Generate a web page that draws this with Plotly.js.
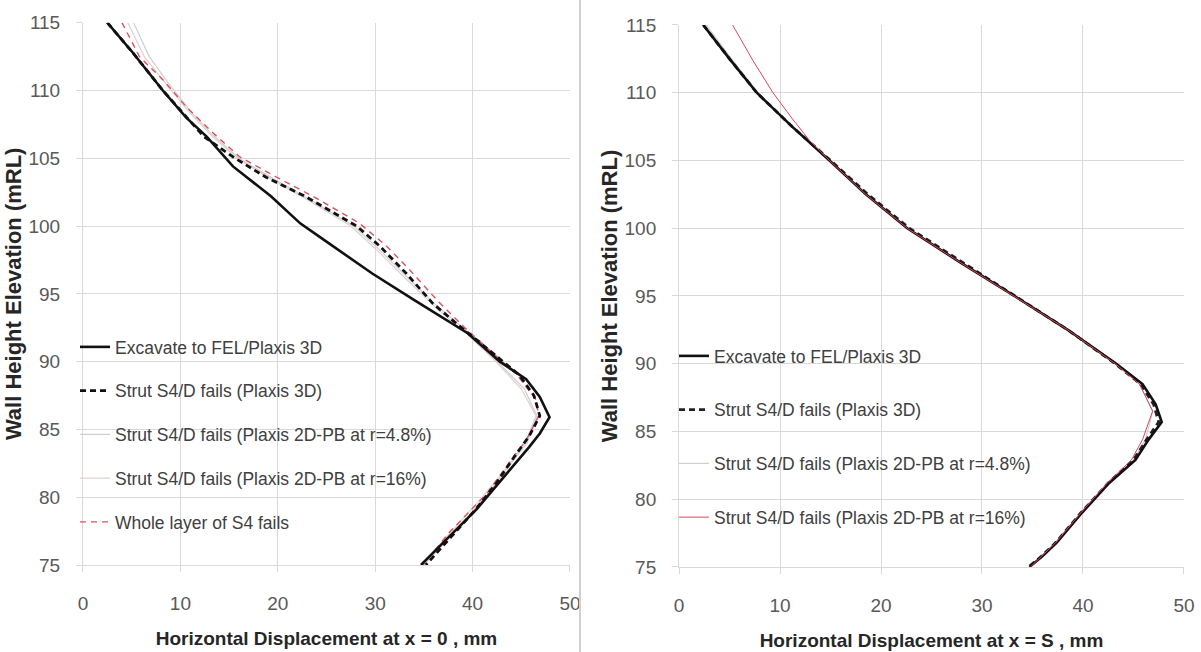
<!DOCTYPE html>
<html>
<head>
<meta charset="utf-8">
<script src="https://cdn.plot.ly/plotly-3.0.1.min.js"></script>
<style>html,body{margin:0;padding:0;background:#fff;}#chart{width:1201px;height:652px;}</style>
</head>
<body>
<div id="chart"></div>
<script>
// ---------- Left panel (x = 0) ----------
const L_exc_y = [115, 112.8, 110, 108, 106.6, 105, 104.4, 102.2, 100.2, 99.2, 96.5, 94.5, 92.1, 90, 88.7, 87.4, 85.9, 84.7, 83.7, 82, 79.1, 77.1, 75];
const L_exc_x = [2.5, 5.1, 8.2, 10.6, 12.7, 14.6, 15.4, 19.3, 22.3, 24.3, 29.7, 34.1, 39.5, 42.8, 45.5, 46.9, 47.9, 46.9, 45.8, 43.8, 40.4, 37.6, 34.7];

const L_s3d_y = [115, 112.8, 110, 108, 106.6, 105.1, 103.6, 102.2, 100, 98.5, 96.5, 94.3, 92.6, 90.5, 89, 87.5, 86, 84.5, 83, 81, 79, 77, 75];
const L_s3d_x = [2.5, 5.1, 8.2, 10.7, 12.4, 15.4, 18.8, 22.8, 28.1, 30.5, 33.2, 35.9, 38.7, 42.3, 44.8, 46.3, 46.9, 45.8, 44.3, 42.4, 40.2, 37.7, 35.2];

const L_pb48_y = [115, 112.5, 110.5, 108.5, 106.8, 105, 103.5, 102, 100, 98, 96, 94, 92, 90, 88, 86, 84, 82, 80, 78, 76, 75];
const L_pb48_x = [5.2, 6.8, 8.8, 11.0, 13.2, 16.0, 19.5, 23.2, 27.8, 30.8, 33.6, 36.5, 39.8, 42.5, 45.3, 46.6, 45.6, 43.4, 41.3, 38.8, 36.2, 35.0];

const L_pb16_y = [115, 112.5, 110.5, 108.5, 106.8, 105, 103.5, 102, 100, 98, 96, 94, 92, 90, 88, 86, 84, 82, 80, 78, 76, 75];
const L_pb16_x = [4.6, 6.3, 8.5, 10.8, 13.0, 15.8, 19.2, 22.9, 27.5, 30.5, 33.3, 36.2, 39.5, 42.4, 45.0, 46.5, 45.4, 43.3, 41.0, 38.5, 36.0, 34.9];

const L_whole_y = [115, 112.5, 110.8, 108.8, 106.9, 105.1, 103.6, 102.2, 100.2, 98.5, 96.8, 94.5, 92.5, 90.5, 89, 87.2, 86, 84.2, 83, 80.3, 77.4, 75];
const L_whole_x = [4.0, 5.8, 8.2, 10.6, 13.3, 16.1, 19.9, 23.6, 28.4, 31.2, 33.5, 36.4, 39.2, 42.3, 44.6, 46.5, 46.8, 45.5, 44.2, 41.5, 37.6, 34.9];

// ---------- Right panel (x = S) ----------
const R_exc_y = [115, 112.5, 110, 107.5, 105, 102.5, 100, 97.5, 95, 92.5, 90, 88.5, 87, 85.7, 84.4, 82.9, 81.2, 79, 76.8, 75.8, 75];
const R_exc_x = [2.4, 5.0, 7.7, 11.2, 14.9, 18.5, 22.6, 27.8, 33.2, 38.5, 43.3, 45.9, 47.2, 47.8, 46.5, 45.2, 42.6, 39.9, 37.4, 36.0, 34.7];

const R_s3d_y = [115, 112.5, 110, 107.5, 105, 102.5, 100, 97.5, 95, 92.5, 90, 88.5, 87, 85.7, 84.4, 82.9, 81.2, 79, 76.8, 75.8, 75];
const R_s3d_x = [2.4, 5.0, 7.7, 11.2, 15.0, 18.7, 22.8, 28.0, 33.3, 38.5, 43.2, 45.7, 47.0, 47.5, 46.3, 45.0, 42.5, 39.8, 37.3, 35.9, 34.6];

const R_pb48_y = [115, 112.5, 110, 107.5, 105, 102.5, 100, 97.5, 95, 92.5, 90, 88.5, 86.5, 84.4, 82.9, 81.2, 79, 76.8, 75];
const R_pb48_x = [2.7, 5.2, 7.8, 11.2, 14.9, 18.5, 22.6, 27.8, 33.2, 38.5, 43.2, 45.6, 46.9, 46.2, 45.0, 42.5, 39.8, 37.3, 34.8];

const R_pb16_y = [115, 112.4, 110, 108, 106.5, 105, 102.5, 100, 97.5, 95, 92.5, 90, 88.5, 86.5, 84.4, 82.9, 81.2, 79, 76.8, 75];
const R_pb16_x = [5.3, 7.3, 9.3, 11.3, 12.9, 14.9, 18.5, 22.6, 27.8, 33.2, 38.5, 43.2, 45.6, 46.9, 45.9, 44.8, 42.4, 39.8, 37.3, 34.8];

const xTicks = [0, 10, 20, 30, 40, 50];
const yTicks = [75, 80, 85, 90, 95, 100, 105, 110, 115];

const names = {
  exc: 'Excavate to FEL/Plaxis 3D',
  s3d: 'Strut S4/D fails (Plaxis 3D)',
  pb48: 'Strut S4/D fails (Plaxis 2D-PB at r=4.8%)',
  pb16: 'Strut S4/D fails (Plaxis 2D-PB at r=16%)',
  whole: 'Whole layer of S4 fails'
};

function tr(x, y, name, line, xa, ya, leg, grp, rank) {
  return {type: 'scatter', mode: 'lines', x: x, y: y, name: name, line: line,
          xaxis: xa, yaxis: ya, legend: leg, legendgroup: grp, legendrank: rank, hoverinfo: 'skip'};
}

const data = [
  // left
  tr(L_pb48_x, L_pb48_y, names.pb48, {color: '#cfcfcf', width: 1.2}, 'x', 'y', 'legend', 'l3', 3),
  tr(L_pb16_x, L_pb16_y, names.pb16, {color: '#e2cfcf', width: 1.2}, 'x', 'y', 'legend', 'l4', 4),
  tr(L_whole_x, L_whole_y, names.whole, {color: '#e0505a', width: 1.4, dash: '6px,5px'}, 'x', 'y', 'legend', 'l5', 5),
  tr(L_s3d_x, L_s3d_y, names.s3d, {color: '#111111', width: 2.8, dash: '6px,4px'}, 'x', 'y', 'legend', 'l2', 2),
  tr(L_exc_x, L_exc_y, names.exc, {color: '#111111', width: 2.6}, 'x', 'y', 'legend', 'l1', 1),
  // right
  tr(R_pb48_x, R_pb48_y, names.pb48, {color: '#cfcfcf', width: 1.2}, 'x2', 'y2', 'legend2', 'r3', 3),
  tr(R_s3d_x, R_s3d_y, names.s3d, {color: '#222222', width: 2.8, dash: '6px,4px'}, 'x2', 'y2', 'legend2', 'r2', 2),
  tr(R_exc_x, R_exc_y, names.exc, {color: '#111111', width: 2.6}, 'x2', 'y2', 'legend2', 'r1', 1),
  tr(R_pb16_x, R_pb16_y, names.pb16, {color: '#d9485a', width: 1}, 'x2', 'y2', 'legend2', 'r4', 4)
];

const tickFont = {family: 'Liberation Sans, Arial, sans-serif', size: 19, color: '#595959'};
const ytitleFont = {family: 'Liberation Sans, Arial, sans-serif', size: 22, color: '#262626', weight: 'bold'};
const xtitleFont = {family: 'Liberation Sans, Arial, sans-serif', size: 19, color: '#262626', weight: 'bold'};
const legFont = {family: 'Liberation Sans, Arial, sans-serif', size: 17.5, color: '#404040'};

function xax(domain, anchor, title) {
  return {domain: domain, anchor: anchor, range: [0, 50], tickvals: xTicks, ticktext: xTicks.map(String),
    showgrid: true, gridcolor: '#d9d9d9', gridwidth: 1, zeroline: false,
    showline: true, linecolor: '#d9d9d9', linewidth: 1, ticks: 'outside', ticklen: 6, tickcolor: '#d9d9d9',
    ticklabelstandoff: 15, tickfont: tickFont,
    title: {text: title, font: xtitleFont, standoff: 18}, fixedrange: true};
}
function yax(domain, anchor, title) {
  return {domain: domain, anchor: anchor, range: [75, 115], tickvals: yTicks, ticktext: yTicks.map(String),
    showgrid: true, gridcolor: '#d9d9d9', gridwidth: 1, zeroline: false,
    showline: true, linecolor: '#d9d9d9', linewidth: 1, ticks: 'outside', ticklen: 6, tickcolor: '#d9d9d9',
    ticklabelstandoff: 12, tickfont: tickFont,
    title: {text: title, font: ytitleFont, standoff: 0}, fixedrange: true};
}

const W = 1201, H = 652;
function px(x) { return x / W; }
function py(y) { return 1 - y / H; }

const layout = {
  width: W, height: H,
  margin: {l: 0, r: 0, t: 0, b: 0, autoexpand: false},
  paper_bgcolor: '#ffffff', plot_bgcolor: '#ffffff',
  showlegend: true,
  xaxis: xax([0.0691, 0.4746], 'y', 'Horizontal Displacement at x = 0 , mm'),
  yaxis: yax([0.1334, 0.9652], 'x', 'Wall Height Elevation (mRL)'),
  xaxis2: xax([0.5654, 0.9858], 'y2', 'Horizontal Displacement at x = S , mm'),
  yaxis2: yax([0.1304, 0.9617], 'x2', 'Wall Height Elevation (mRL)'),
  legend: {x: px(75), y: py(329), xanchor: 'left', yanchor: 'top', bgcolor: 'rgba(0,0,0,0)',
    traceorder: 'grouped', tracegroupgap: 18, font: legFont, itemwidth: 30},
  legend2: {x: px(674), y: py(338), xanchor: 'left', yanchor: 'top', bgcolor: 'rgba(0,0,0,0)',
    traceorder: 'grouped', tracegroupgap: 28, font: legFont, itemwidth: 30},
  shapes: [
    // white legend backgrounds hiding the grid (drawn between grid and traces)
    {type: 'rect', xref: 'paper', yref: 'paper', layer: 'between',
     x0: px(88), x1: px(442), y0: py(542), y1: py(322), fillcolor: '#ffffff', line: {width: 0}},
    {type: 'rect', xref: 'paper', yref: 'paper', layer: 'between',
     x0: px(684), x1: px(1050), y0: py(543), y1: py(330), fillcolor: '#ffffff', line: {width: 0}},
    // panel divider
    {type: 'line', xref: 'paper', yref: 'paper', x0: px(580), x1: px(580), y0: 0, y1: 1,
     line: {color: '#d0d0d0', width: 2}}
  ]
};

Plotly.newPlot('chart', data, layout, {displayModeBar: false, staticPlot: true});
</script>
</body>
</html>
